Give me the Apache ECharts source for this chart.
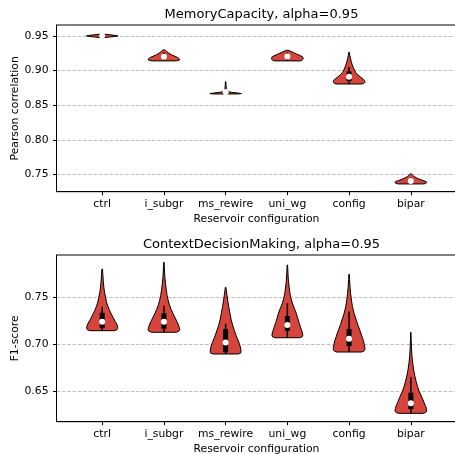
<!DOCTYPE html>
<html><head><meta charset="utf-8">
<script src="https://cdn.jsdelivr.net/npm/echarts@6/dist/echarts.min.js"></script>
<style>html,body{margin:0;padding:0;background:#fff}#c{width:455px;height:454px}</style>
</head><body><div id="c"></div><script>
const categories = ['ctrl','i_subgr','ms_rewire','uni_wg','config','bipar'];
const mcTicks = [0.75,0.80,0.85,0.90,0.95];
const cdmTicks = [0.65,0.70,0.75];

// box stats per category: [whiskerLow, q1, median, q3, whiskerHigh]
const mcStats = [
  [0.9485,0.9497,0.9505,0.9512,0.9520],
  [0.9145,0.9170,0.9200,0.9220,0.9260],
  [0.8662,0.8666,0.8690,0.8700,0.8730],
  [0.9145,0.9175,0.9205,0.9225,0.9260],
  [0.8806,0.8850,0.8910,0.8985,0.9050],
  [0.7365,0.7380,0.7405,0.7420,0.7450]
];
const cdmStats = [
  [0.7145,0.7170,0.7240,0.7336,0.7400],
  [0.7128,0.7165,0.7240,0.7330,0.7410],
  [0.6897,0.6915,0.7020,0.7163,0.7220],
  [0.7070,0.7145,0.7205,0.7301,0.7436],
  [0.6918,0.6982,0.7060,0.7163,0.7350],
  [0.6266,0.6312,0.6372,0.6485,0.6650]
];

// violin outlines: [value, half-width in category units], bottom to top
const mcCtrl = [[0.9475,0.0],[0.9485,0.12],[0.9495,0.22],[0.9502,0.256],[0.9510,0.2],[0.9520,0.1],[0.9529,0.0]];
const mcISubgr = [[0.914,0.18],[0.9145,0.23],[0.9155,0.256],[0.917,0.25],[0.919,0.22],[0.921,0.17],[0.923,0.12],[0.925,0.08],[0.927,0.05],[0.929,0.03],[0.930,0.01]];
const mcMsRewire = [[0.8662,0.2],[0.8668,0.256],[0.8675,0.2],[0.8685,0.1],[0.8695,0.05],[0.871,0.025],[0.874,0.012],[0.878,0.007],[0.884,0.004]];
const mcUniWg = [[0.914,0.2],[0.9145,0.235],[0.916,0.25],[0.918,0.256],[0.920,0.245],[0.922,0.2],[0.924,0.15],[0.926,0.1],[0.928,0.05],[0.9295,0.01]];
const mcConfig = [[0.8806,0.2],[0.8815,0.24],[0.883,0.256],[0.8855,0.25],[0.888,0.225],[0.891,0.18],[0.894,0.14],[0.897,0.11],[0.900,0.09],[0.904,0.07],[0.9085,0.05],[0.913,0.035],[0.918,0.022],[0.922,0.012],[0.9264,0.005]];
const mcBipar = [[0.7361,0.2],[0.7368,0.24],[0.738,0.256],[0.7395,0.25],[0.741,0.2],[0.743,0.14],[0.745,0.09],[0.747,0.05],[0.749,0.025],[0.751,0.005]];

const cdmCtrl = [[0.7145,0.20],[0.7155,0.24],[0.717,0.25],[0.719,0.25],[0.7215,0.235],[0.7245,0.21],[0.728,0.18],[0.732,0.15],[0.736,0.12],[0.740,0.095],[0.745,0.07],[0.750,0.055],[0.755,0.04],[0.760,0.028],[0.767,0.018],[0.774,0.011],[0.780,0.005]];
const cdmISubgr = [[0.7128,0.20],[0.7138,0.24],[0.7155,0.256],[0.718,0.25],[0.7215,0.23],[0.725,0.205],[0.729,0.175],[0.733,0.145],[0.737,0.118],[0.742,0.09],[0.747,0.068],[0.752,0.052],[0.758,0.038],[0.765,0.025],[0.772,0.015],[0.780,0.008],[0.7872,0.004]];
const cdmMsRewire = [[0.6897,0.2],[0.6905,0.24],[0.692,0.25],[0.695,0.245],[0.698,0.235],[0.702,0.215],[0.706,0.19],[0.710,0.165],[0.715,0.14],[0.720,0.115],[0.726,0.09],[0.733,0.07],[0.740,0.05],[0.746,0.035],[0.752,0.022],[0.757,0.012],[0.7606,0.005]];
const cdmUniWg = [[0.707,0.2],[0.708,0.24],[0.7095,0.25],[0.712,0.245],[0.715,0.23],[0.719,0.21],[0.723,0.19],[0.728,0.165],[0.733,0.145],[0.738,0.115],[0.743,0.085],[0.748,0.062],[0.753,0.045],[0.760,0.03],[0.768,0.017],[0.776,0.009],[0.7844,0.004]];
const cdmConfig = [[0.6918,0.2],[0.6928,0.24],[0.6945,0.256],[0.697,0.255],[0.700,0.245],[0.704,0.232],[0.708,0.21],[0.712,0.19],[0.716,0.168],[0.721,0.14],[0.727,0.11],[0.733,0.08],[0.740,0.055],[0.747,0.038],[0.754,0.025],[0.762,0.014],[0.769,0.008],[0.7745,0.004]];
const cdmBipar = [[0.6266,0.2],[0.6275,0.24],[0.629,0.256],[0.632,0.25],[0.635,0.235],[0.638,0.215],[0.642,0.19],[0.646,0.165],[0.650,0.135],[0.655,0.11],[0.660,0.088],[0.666,0.066],[0.672,0.048],[0.680,0.03],[0.688,0.018],[0.697,0.01],[0.705,0.006],[0.7128,0.003]];

const mcProfiles = [mcCtrl, mcISubgr, mcMsRewire, mcUniWg, mcConfig, mcBipar];
const cdmProfiles = [cdmCtrl, cdmISubgr, cdmMsRewire, cdmUniWg, cdmConfig, cdmBipar];

const FONT = 'DejaVu Sans';
const FILL = '#d6453b';
const FS = 10.8;

function makeRender(profiles){
  return function(params, api){
    const i = api.value(0);
    const prof = profiles[i];
    const pts = [];
    for (const [v,w] of prof) pts.push(api.coord([i - w, v]));
    for (let k = prof.length - 1; k >= 0; k--) pts.push(api.coord([i + prof[k][1], prof[k][0]]));
    const low = api.coord([i, api.value(1)]);
    const q1 = api.coord([i, api.value(2)]);
    const med = api.coord([i, api.value(3)]);
    const q3 = api.coord([i, api.value(4)]);
    const high = api.coord([i, api.value(5)]);
    const bw = 5;
    return {type:'group', children:[
      {type:'polygon', shape:{points:pts}, style:{fill:FILL, stroke:'#000', lineWidth:1}},
      {type:'line', shape:{x1:low[0],y1:low[1],x2:high[0],y2:high[1]}, style:{stroke:'#000', lineWidth:1.5}},
      {type:'rect', shape:{x:q3[0]-bw/2, y:q3[1], width:bw, height:Math.max(q1[1]-q3[1],0.5)}, style:{fill:'#000'}},
      {type:'circle', shape:{cx:med[0], cy:med[1], r:3}, style:{fill:'#fff'}}
    ]};
  };
}

function xAxisCfg(gi){
  return {
    type:'value', gridIndex:gi, min:-0.74, max:5.74,
    name:'Reservoir configuration', nameLocation:'middle', nameGap:22, nameMoveOverlap:false,
    nameTextStyle:{fontFamily:FONT, fontSize:FS, color:'#000'},
    axisLine:{show:true, onZero:false, lineStyle:{color:'#000', width:1}},
    axisTick:{show:true, length:3.5, lineStyle:{color:'#000'}, customValues:[0,1,2,3,4,5]},
    axisLabel:{show:true, margin:6.5, fontFamily:FONT, fontSize:FS, color:'#000',
      customValues:[0,1,2,3,4,5], formatter:v => categories[Math.round(v)] || ''},
    splitLine:{show:false}
  };
}
function yAxisCfg(gi, name, lo, hi, ticks){
  return {
    type:'value', gridIndex:gi, min:lo, max:hi,
    name:name, nameLocation:'middle', nameGap:36, nameMoveOverlap:false,
    nameTextStyle:{fontFamily:FONT, fontSize:FS, color:'#000'},
    axisLine:{show:true, onZero:false, lineStyle:{color:'#000', width:1}},
    axisTick:{show:true, length:3.5, lineStyle:{color:'#000'}, customValues:ticks},
    axisLabel:{show:true, margin:8, fontFamily:FONT, fontSize:FS, color:'#000',
      customValues:ticks, formatter:v => v.toFixed(2)},
    splitLine:{show:true, lineStyle:{color:'#b0b0b0', width:0.8, type:[3.7,1.6]}}
  };
}

const chart = echarts.init(document.getElementById('c'), null, {renderer:'canvas'});
chart.setOption({
  animation:false,
  backgroundColor:'#fff',
  title:[
    {text:'MemoryCapacity, alpha=0.95', left:256.5, top:3, textAlign:'center',
     textStyle:{fontFamily:FONT, fontSize:13, fontWeight:'normal', color:'#000'}},
    {text:'ContextDecisionMaking, alpha=0.95', left:256.5, top:233, textAlign:'center',
     textStyle:{fontFamily:FONT, fontSize:13, fontWeight:'normal', color:'#000'}}
  ],
  grid:[
    {left:56.5, top:25, width:400, height:166.7, show:true, borderColor:'#000', borderWidth:1, backgroundColor:'transparent', containLabel:false, outerBoundsMode:'none'},
    {left:56.5, top:255, width:400, height:166.7, show:true, borderColor:'#000', borderWidth:1, backgroundColor:'transparent', containLabel:false, outerBoundsMode:'none'}
  ],
  xAxis:[xAxisCfg(0), xAxisCfg(1)],
  yAxis:[
    yAxisCfg(0, 'Pearson correlation', 0.7249, 0.9659, mcTicks),
    yAxisCfg(1, 'F1-score', 0.6177, 0.795, cdmTicks)
  ],
  series:[
    {type:'custom', xAxisIndex:0, yAxisIndex:0, renderItem:makeRender(mcProfiles),
     encode:{x:0, y:[1,2,3,4,5]}, clip:true,
     data:mcStats.map((s,i)=>[i, ...s])},
    {type:'custom', xAxisIndex:1, yAxisIndex:1, renderItem:makeRender(cdmProfiles),
     encode:{x:0, y:[1,2,3,4,5]}, clip:true,
     data:cdmStats.map((s,i)=>[i, ...s])}
  ]
});
</script></body></html>
